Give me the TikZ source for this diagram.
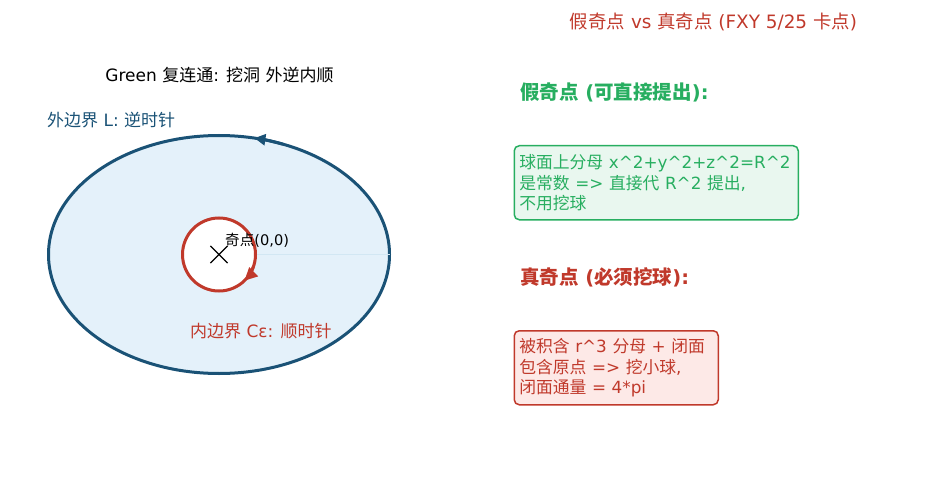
\documentclass[tikz,border=0pt]{standalone}
\usepackage{fontspec}
\setmainfont{DejaVu Sans}
\newfontfamily\cjkfam{Noto Sans CJK SC}
\newfontfamily\latfam{DejaVu Sans}
\XeTeXinterchartokenstate=1
\newXeTeXintercharclass\cjkclass
\makeatletter
\count@="4E00
\loop \XeTeXcharclass\count@=\cjkclass \ifnum\count@<"9FFF \advance\count@ 1 \repeat
\makeatother
\XeTeXinterchartoks 0 \cjkclass = {\cjkfam}
\XeTeXinterchartoks 4095 \cjkclass = {\cjkfam}
\XeTeXinterchartoks \cjkclass 0 = {\latfam}
\XeTeXinterchartoks \cjkclass 4095 = {\latfam}
\usetikzlibrary{arrows.meta,shapes.geometric,shapes.misc}
\definecolor{dblue}{HTML}{1A5276}
\definecolor{lblue}{HTML}{E4F1FA}
\definecolor{cutblue}{HTML}{D2E7F3}
\definecolor{myred}{HTML}{C0392B}
\definecolor{mygreen}{HTML}{27AE60}
\definecolor{gfill}{HTML}{E9F7EF}
\definecolor{rfill}{HTML}{FDE9E7}
\tikzset{
  plain/.style={inner sep=0pt, font=\fontsize{17}{20.5}\selectfont},
  head/.style={inner sep=0pt, anchor=west, font=\fontsize{19.5}{23}\selectfont\bfseries},
  infobox/.style={anchor=north west, rounded corners=5pt, line width=1.5pt, align=left,
    text width=274pt, inner xsep=5pt, inner ysep=5pt, font=\fontsize{16.8}{20.5}\selectfont}
}
\begin{document}
\begin{tikzpicture}[x=1pt,y=1pt]
\useasboundingbox (0,0) rectangle (932,483);
% left diagram
\node[plain, anchor=center] (gtitle) at (219.5,408) {Green 复连通: 挖洞 外逆内顺};
\node[plain, anchor=west, text=dblue] (outlab) at (47,363) {外边界 L: 逆时针};
\node[ellipse, draw=dblue, fill=lblue, line width=3pt, minimum width=341pt, minimum height=238pt, inner sep=0pt] (outer) at (219,228.5) {};
\node[circle, draw=myred, fill=white, line width=3pt, minimum size=73pt, inner sep=0pt] (inner) at (219,228.5) {};
\draw[cutblue, line width=1.5pt] (inner.east) -- ([xshift=-1.5pt]outer.east);
\draw[dblue, line width=3pt, -{Triangle[length=11pt,width=11pt]}]
  ([shift={(outer.center)}]68:170.5 and 119) arc[start angle=68, end angle=78, x radius=170.5, y radius=119];
\draw[myred, line width=3pt, -{Triangle[length=13pt,width=12pt]}]
  ([shift={(inner.center)}]-20:36.5) arc[start angle=-20, end angle=-46, radius=36.5];
\node[cross out, draw=black, line width=1.2pt, minimum size=16pt, inner sep=0pt] (sing) at (219,228.5) {};
\node[inner sep=0pt, anchor=west, font=\fontsize{14.6}{18}\selectfont] (slab) at (225,243) {奇点(0,0)};
\node[plain, anchor=west, text=myred] (inlab) at (190,152) {内边界 Cε: 顺时针};
% right side
\node[inner sep=0pt, anchor=center, text=myred, font=\fontsize{18.4}{22}\selectfont] (title) at (713.5,461) {假奇点 vs 真奇点 (FXY 5/25 卡点)};
\node[head, text=mygreen] (h1) at (520,391) {假奇点 (可直接提出):};
\node[infobox, draw=mygreen, fill=gfill, text=mygreen, minimum height=74pt] (gbox) at (513.5,338) {球面上分母 x\^{}2+y\^{}2+z\^{}2=R\^{}2\\是常数 => 直接代 R\^{}2 提出,\\不用挖球};
\node[head, text=myred] (h2) at (520,206) {真奇点 (必须挖球):};
\node[infobox, draw=myred, fill=rfill, text=myred, text width=194pt, minimum height=74pt] (rbox) at (513.5,153) {被积含 r\^{}3 分母 + 闭面\\包含原点 => 挖小球,\\闭面通量 = 4*pi};
\end{tikzpicture}
\end{document}
